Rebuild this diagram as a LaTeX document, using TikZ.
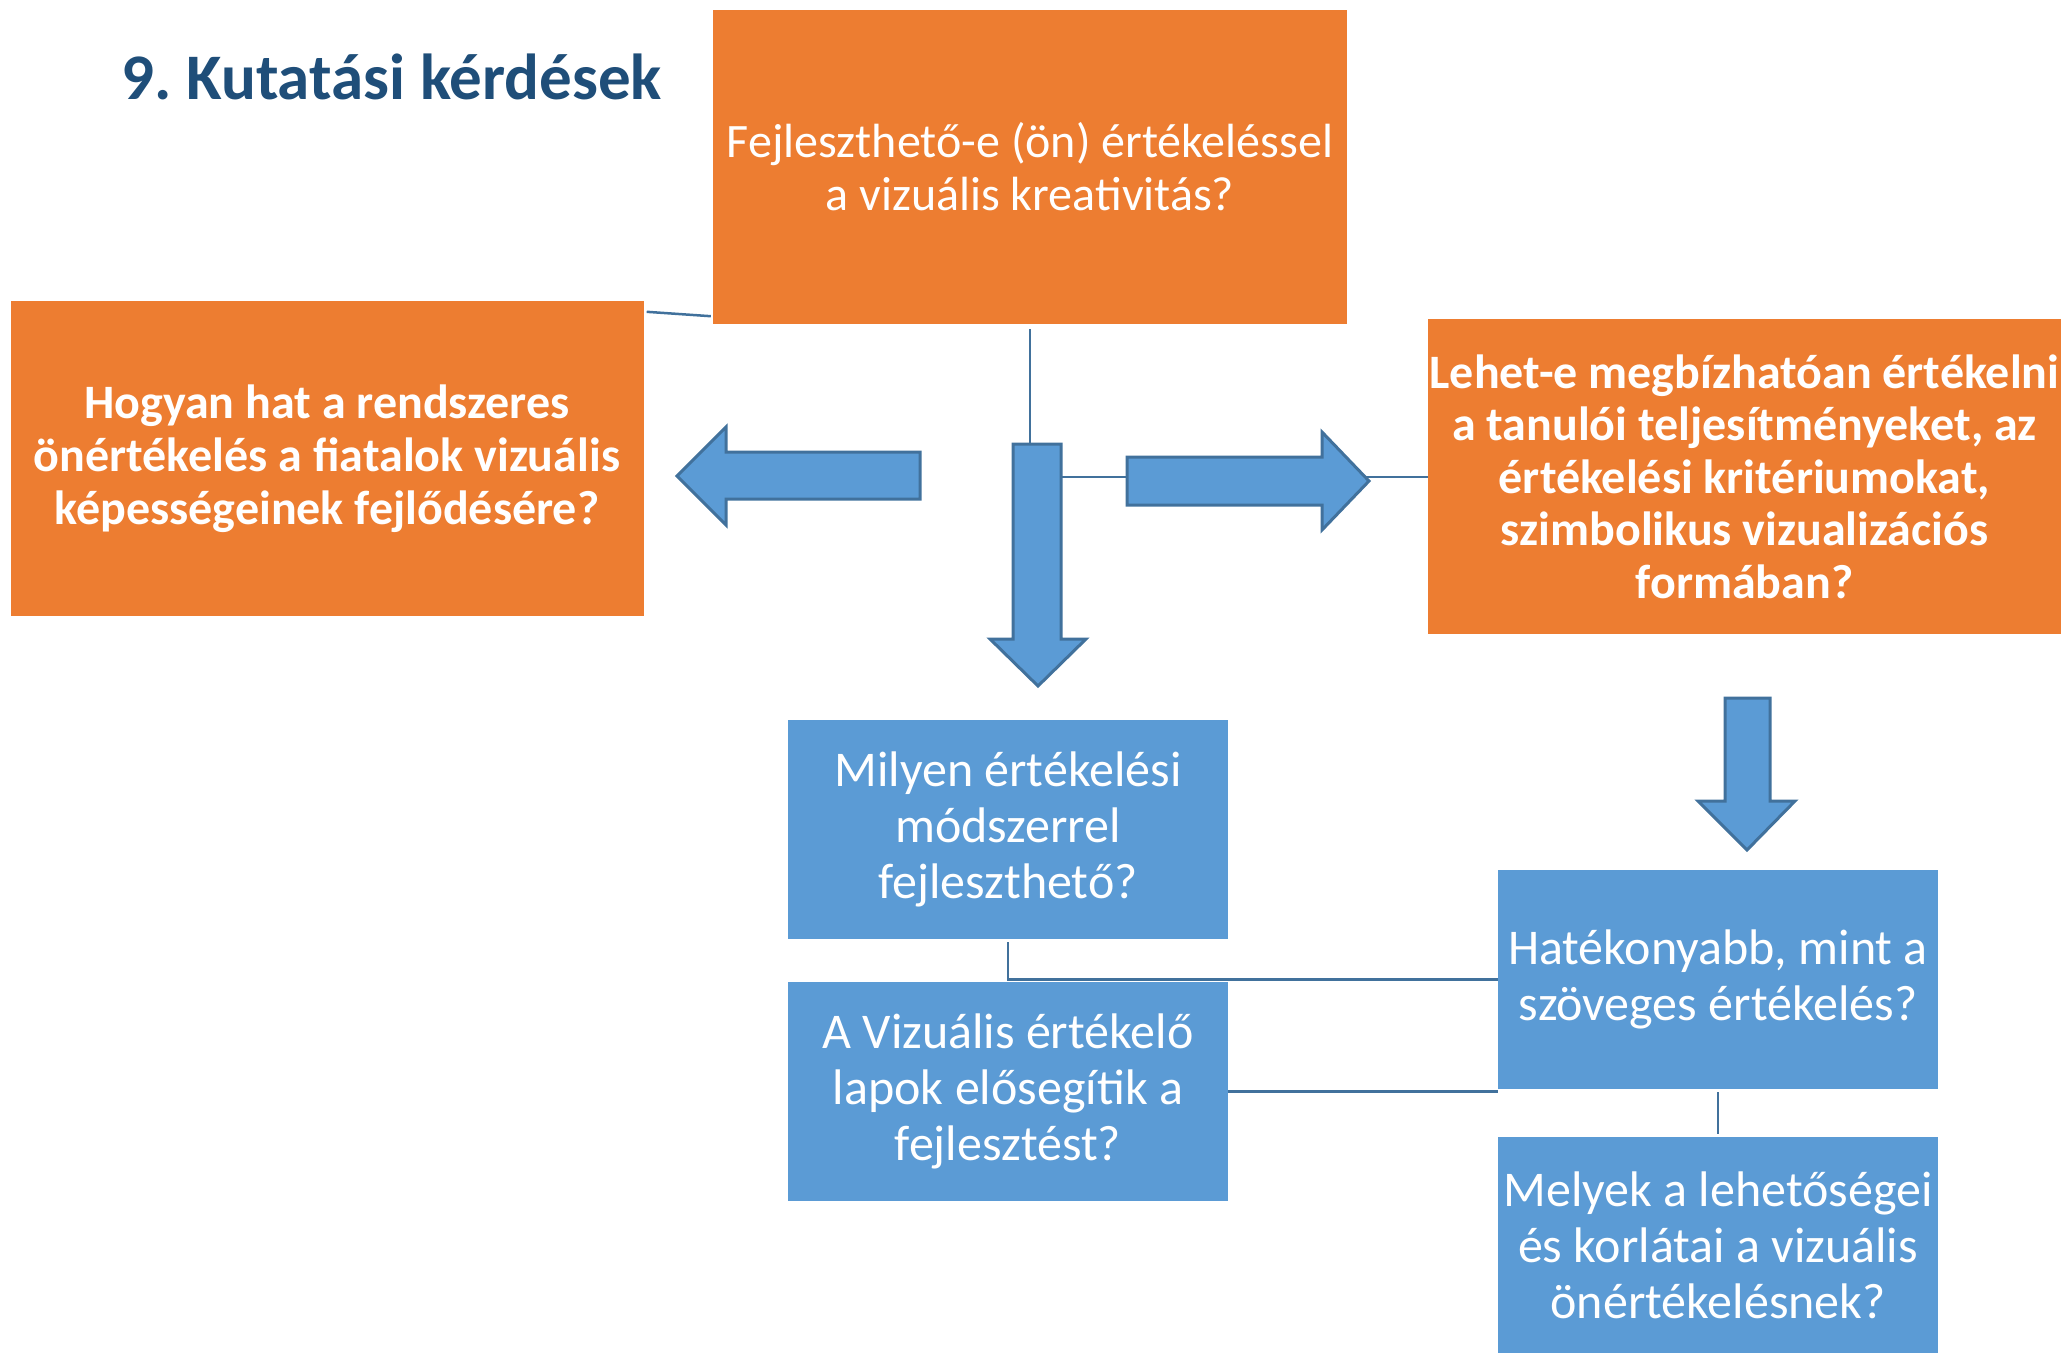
\documentclass[tikz,border=0pt]{standalone}
\usepackage{fontspec}
\setmainfont{Carlito}
\usetikzlibrary{calc}
\definecolor{orng}{HTML}{ED7D31}
\definecolor{bfill}{HTML}{5B9BD5}
\definecolor{bline}{HTML}{41719C}
\definecolor{ttl}{HTML}{1F4E79}
\frenchspacing
\tikzset{
  obox/.style={fill=orng, draw=none, inner sep=0pt, align=center, text=white,
    font=\fontsize{48}{53}\selectfont},
  bbox/.style={fill=bfill, draw=none, inner sep=0pt, align=center, text=white,
    font=\fontsize{50}{56}\selectfont},
  conn/.style={draw=bline, line width=2.5pt},
  barrow/.style={fill=bfill, draw=bline, line width=3pt, line join=miter},
}
\begin{document}
\begin{tikzpicture}[x=1pt,y=-1pt]
\useasboundingbox (0,0) rectangle (2064,1353);
% title
\node[anchor=base west, inner sep=0pt, text=ttl, font=\fontsize{65}{70}\selectfont\bfseries] (title) at (121,99) {9. Kutatási kérdések};
% orange boxes
\node[obox, minimum width=634pt, minimum height=314pt] (tq) at (1030,167)
  {Fejleszthető-e (ön) értékeléssel\\a vizuális kreativitás?};
\node[obox, minimum width=633pt, minimum height=315pt, font=\fontsize{48}{53}\selectfont\bfseries] (lq) at (327,458.5)
  {Hogyan hat a rendszeres\\önértékelés a fiatalok vizuális\\képességeinek fejlődésére?};
\node[obox, minimum width=633pt, minimum height=315pt, font=\fontsize{48}{52.5}\selectfont\bfseries] (rq) at (1744.5,476.5)
  {Lehet-e megbízhatóan értékelni\\a tanulói teljesítményeket, az\\értékelési kritériumokat,\\szimbolikus vizualizációs\\formában?};
% blue boxes
\node[bbox, minimum width=440pt, minimum height=219pt] (mq) at (1008,829.5)
  {Milyen értékelési\\módszerrel\\fejleszthető?};
\node[bbox, minimum width=440pt, minimum height=219pt] (vq) at (1008,1091.5)
  {A Vizuális értékelő\\lapok elősegítik a\\fejlesztést?};
\node[bbox, minimum width=440pt, minimum height=219pt] (hq) at (1718,979.5)
  {Hatékonyabb, mint a\\szöveges értékelés?};
\node[bbox, minimum width=440pt, minimum height=216pt] (kq) at (1718,1245)
  {Melyek a lehetőségei\\és korlátai a vizuális\\önértékelésnek?};
% block arrows
\draw[barrow] (1013,444) coordinate (dtop) -- (1061,444) -- (1061,639) -- (1086,639) -- (1038,686) -- (990,639) -- (1013,639) -- cycle;
\coordinate (dright) at (1061,477);
\draw[barrow] (920,452) -- (726,452) -- (726,427) -- (677,476) -- (726,525) -- (726,499) -- (920,499) -- cycle;
\draw[barrow] (1127,457) -- (1322,457) -- (1322,432) -- (1369,481) -- (1322,530) -- (1322,505) -- (1127,505) -- cycle;
\coordinate (rleft) at (1127,477);
\coordinate (rtip) at (1366,477);
\draw[barrow] (1725,698) -- (1770,698) -- (1770,801) -- (1795,801) -- (1747,850) -- (1698,801) -- (1725,801) -- cycle;
% connectors
\draw[conn] ($(lq.north east)+(3,11)$) -- ($(tq.south west)+(-2,-8)$);
\draw[conn] ($(tq.south)+(0,5)$) -- (tq.south |- dtop);
\draw[conn] (dright) -- (rleft);
\draw[conn] (rtip) -- (rq.west |- rtip);
\draw[conn] ($(mq.south)+(0,3)$) |- (hq.west);
\draw[conn] (vq.east) -- (vq.east -| hq.west);
\draw[conn] ($(hq.south)+(0,3)$) -- ($(kq.north)+(0,-3)$);
\end{tikzpicture}
\end{document}
